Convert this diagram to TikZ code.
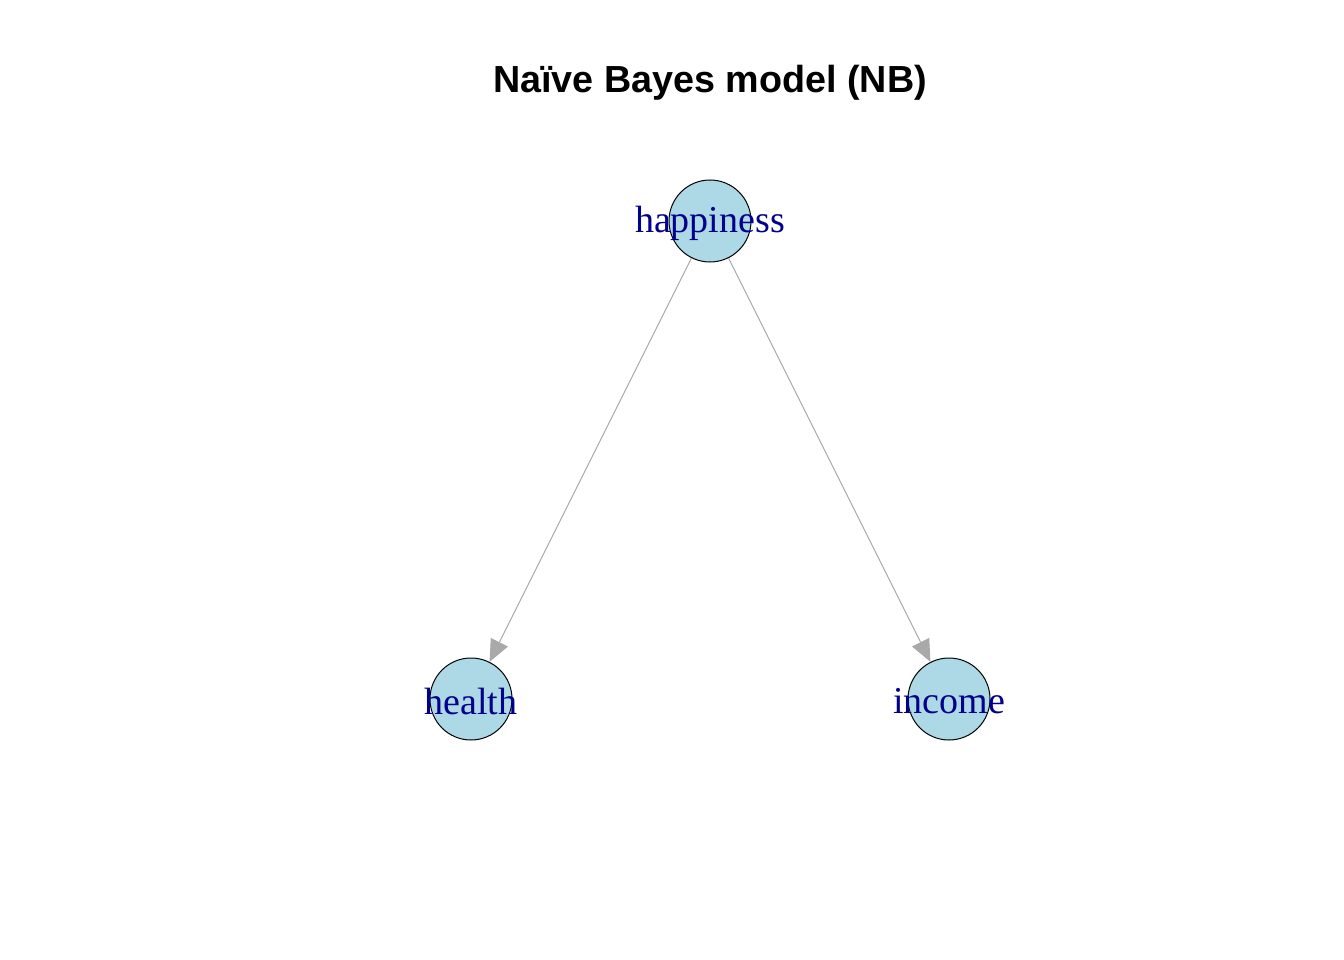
\documentclass[tikz,border=0pt]{standalone}
\usepackage{fontspec}
\setmainfont{Liberation Serif}
\newfontfamily\titlefont{Liberation Sans}
\usetikzlibrary{arrows.meta}
\definecolor{nodefill}{RGB}{173,216,230}
\definecolor{nodetext}{RGB}{0,0,139}
\definecolor{edgegray}{RGB}{169,169,169}
\begin{document}
\begin{tikzpicture}[x=1pt,y=-1pt,
  bnnode/.style={circle,draw=black,line width=1pt,fill=nodefill,minimum size=82pt,inner sep=0pt},
  bnlabel/.style={text=nodetext,font=\fontsize{38}{40}\selectfont,inner sep=0pt},
  bnedge/.style={draw=edgegray,line width=1pt,-{Triangle[length=22pt,width=19pt,fill=edgegray]}}]
\useasboundingbox (0,0) rectangle (1344,960);
\node[font=\titlefont\bfseries\fontsize{37.7}{40}\selectfont] (title) at (710,83) {Naïve Bayes model (NB)};
\node[bnnode] (happiness) at (710,221) {};
\node[bnnode] (health) at (471,699) {};
\node[bnnode] (income) at (949,699) {};
\node[bnlabel] (lh) at ([yshift=-2.5pt]happiness.center) {happiness};
\node[bnlabel] (lhe) at ([yshift=-2.5pt]health.center) {health};
\node[bnlabel] (li) at ([yshift=-2.5pt]income.center) {income};
\draw[bnedge] (happiness) -- (health);
\draw[bnedge] (happiness) -- (income);
\end{tikzpicture}
\end{document}
